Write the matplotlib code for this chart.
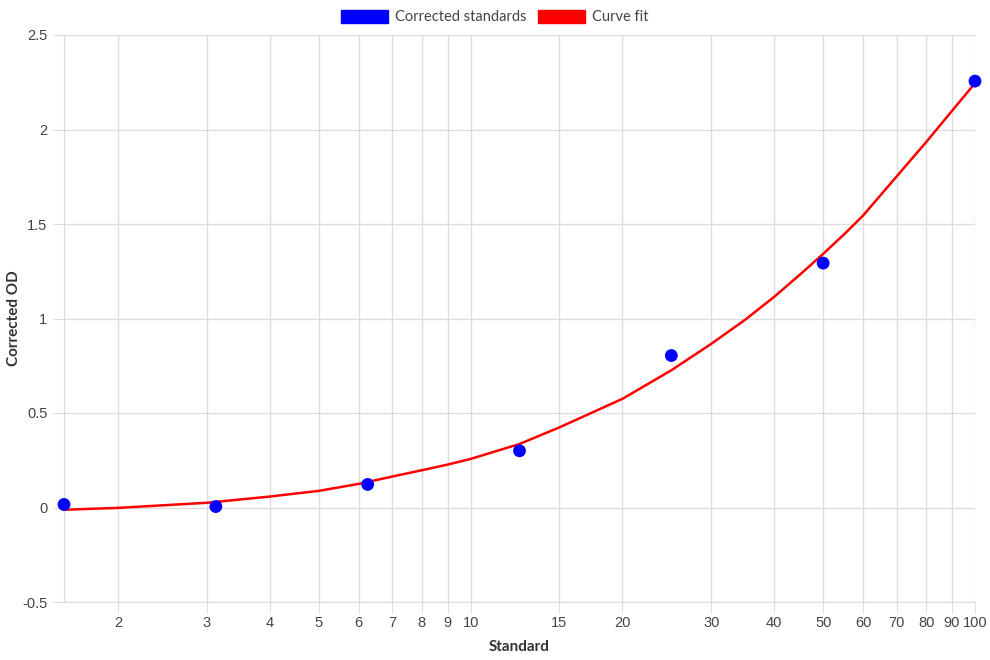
import matplotlib
matplotlib.use("Agg")
import matplotlib.pyplot as plt
from matplotlib.patches import Patch
from matplotlib.ticker import FixedLocator, NullLocator, FixedFormatter

# Data
standards = [1.5625, 3.125, 6.25, 12.5, 25, 50, 100]
corrected_od = [0.016, 0.005, 0.122, 0.30, 0.804, 1.293, 2.256]

fit_x = [1.5625, 2, 3, 4, 5, 6, 7, 8, 9, 10, 12.5, 15, 20, 25, 30, 35, 40, 45, 50, 55, 60, 70, 80, 90, 100]
fit_y = [-0.012, -0.002, 0.025, 0.058, 0.088, 0.125, 0.164, 0.197, 0.227, 0.257,
         0.336, 0.424, 0.575, 0.726, 0.866, 0.993, 1.115, 1.233, 1.342, 1.445, 1.545, 1.753,
         1.933, 2.098, 2.245]

x_ticks = [2, 3, 4, 5, 6, 7, 8, 9, 10, 15, 20, 30, 40, 50, 60, 70, 80, 90, 100]
y_ticks = [-0.5, 0, 0.5, 1, 1.5, 2, 2.5]
y_tick_labels = ["-0.5", "0", "0.5", "1", "1.5", "2", "2.5"]

tick_font = ['Liberation Sans Narrow', 'Liberation Sans', 'DejaVu Sans']
label_font = ['Lato', 'DejaVu Sans']

fig = plt.figure(figsize=(9.9, 6.6), dpi=100)
ax = fig.add_axes([64/990, 1 - 602/660, (975-64)/990, (602-35)/660])

ax.plot(fit_x, fit_y, color='#ff0000', lw=1.8, zorder=3, clip_on=False,
        solid_joinstyle='round')
ax.scatter(standards, corrected_od, s=85, color='#0000ff', zorder=4, edgecolors='none',
           clip_on=False)

ax.set_xscale('log')
ax.set_xlim(1.5625, 100)
ax.set_ylim(-0.5, 2.5)
ax.xaxis.set_major_locator(FixedLocator(x_ticks))
ax.xaxis.set_major_formatter(FixedFormatter([str(t) for t in x_ticks]))
ax.xaxis.set_minor_locator(NullLocator())
ax.yaxis.set_major_locator(FixedLocator(y_ticks))
ax.yaxis.set_major_formatter(FixedFormatter(y_tick_labels))

ax.grid(True, color='#dddddd', lw=1)
ax.set_axisbelow(True)
for s in ['top', 'right']:
    ax.spines[s].set_visible(False)
for s in ['left', 'bottom']:
    ax.spines[s].set_color('#dddddd')
ax.tick_params(axis='both', length=8, color='#dddddd', labelcolor='#444444', labelsize=10.5)
ax.tick_params(axis='x', pad=2)
ax.tick_params(axis='y', pad=4)
for lab in ax.get_xticklabels() + ax.get_yticklabels():
    lab.set_family(tick_font)
ax.axvline(1.5625, color='#dddddd', lw=1, zorder=0)

ax.set_xlabel('Standard', fontsize=11, fontweight='bold', family=label_font, color='#333333', labelpad=7)
ax.set_ylabel('Corrected OD', fontsize=11, fontweight='bold', family=label_font, color='#333333', labelpad=1)

handles = [Patch(facecolor='#0000ff', edgecolor='#0000ff', label='Corrected standards'),
           Patch(facecolor='#ff0000', edgecolor='#ff0000', label='Curve fit')]
leg = fig.legend(handles=handles, loc='upper center', bbox_to_anchor=(0.5, 1.005), ncol=2,
                 frameon=False, handlelength=3.2, handleheight=1.0, handletextpad=0.5,
                 columnspacing=0.8, prop={'family': label_font, 'size': 10.5})
for t in leg.get_texts():
    t.set_color('#444444')

fig.savefig('out.png', dpi=100)
